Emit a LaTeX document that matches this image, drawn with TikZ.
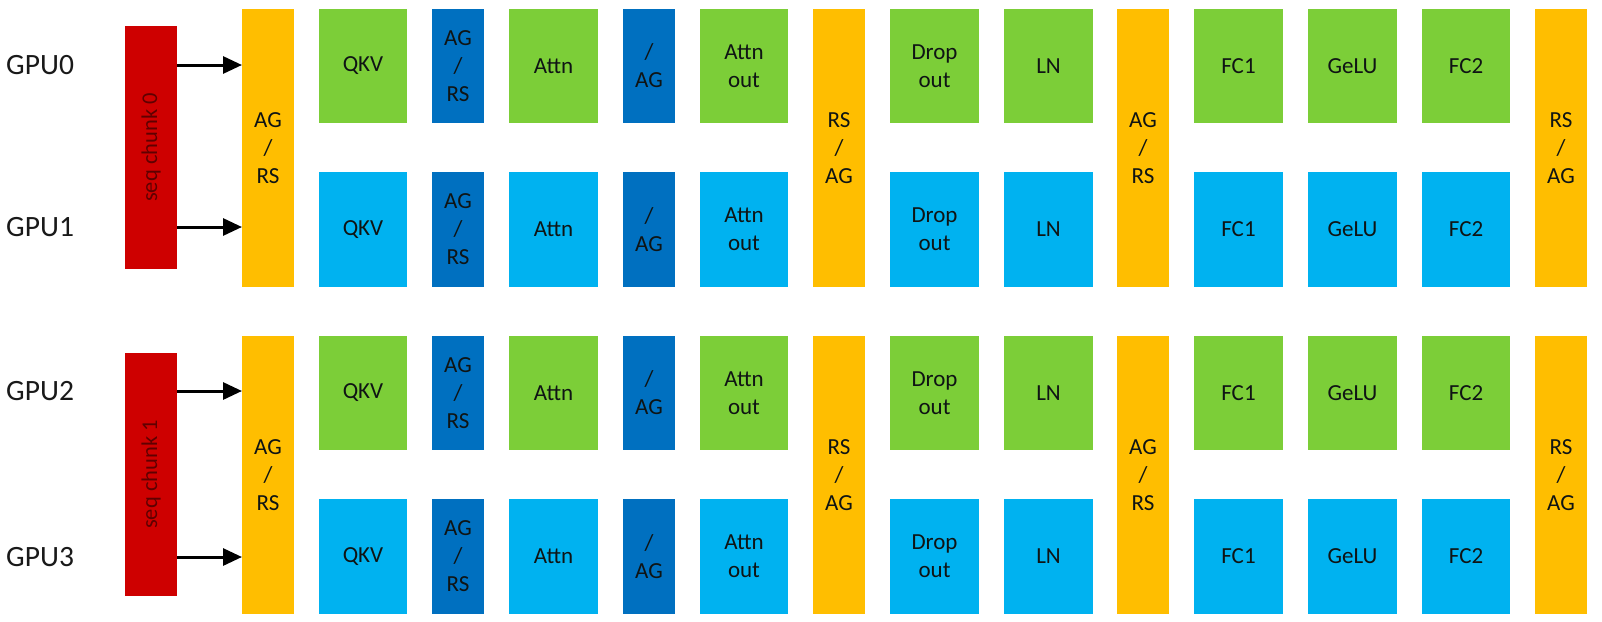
\documentclass[tikz,border=0pt]{standalone}
\usepackage{fontspec}
\setmainfont{Carlito}
\usetikzlibrary{arrows.meta}
\definecolor{cgreen}{RGB}{124,206,56}
\definecolor{cblue}{RGB}{0,178,240}
\definecolor{cdblue}{RGB}{0,112,192}
\definecolor{cyellow}{RGB}{255,190,0}
\definecolor{cred}{RGB}{206,0,0}
\definecolor{cdred}{RGB}{95,0,0}
\definecolor{ctext}{RGB}{15,20,20}
\begin{document}
\begin{tikzpicture}[x=1pt,y=-1pt,
  blk/.style={draw=none, inner sep=0pt, outer sep=0pt, align=center, text=ctext,
    font=\fontsize{23}{28}\selectfont},
  redbox/.style={draw=none, inner sep=0pt, outer sep=0pt, fill=cred},
  seqtxt/.style={rotate=90, text=cdred, inner sep=0pt, font=\fontsize{22.5}{26}\selectfont},
  gpu/.style={anchor=west, inner sep=0pt, text=black!90, font=\fontsize{29.5}{32}\selectfont},
  arr/.style={line width=3pt, -{Triangle[length=19pt,width=17pt]}}]
\useasboundingbox (0,0) rectangle (1602,621);
\fill[white] (0,0) rectangle (1602,621);

\foreach \g/\dy in {0/0,1/327} {
  % yellow communication columns
  \foreach \c/\xa/\xb/\t in {ya/242/294/{AG\\/\\RS}, yb/813/865/{RS\\/\\AG}, yc/1117/1169/{AG\\/\\RS}, yd/1535/1587/{RS\\/\\AG}}
    \node[blk, fill=cyellow, minimum width={(\xb-\xa)*1pt}, minimum height=278pt]
      (\c\g) at ({(\xa+\xb)/2},{148+\dy}) {\t};
  % red sequence chunk
  \node[redbox, minimum width=52pt, minimum height=243pt,
        label={[seqtxt]center:seq chunk \g}] (seq\g) at (151,{147.5+\dy}) {};
  % rows
  \foreach \r/\ya/\yb/\col in {a/9/123/cgreen, b/172/287/cblue} {
    \foreach \c/\xa/\xb/\t in {qkv/319/407/QKV, attn/509/598/Attn, ao/700/788/{Attn\\out}, do/890/979/{Drop\\out}, ln/1004/1093/LN, fca/1194/1283/FC1, gelu/1308/1397/GeLU, fcb/1422/1510/FC2}
      \node[blk, fill=\col, minimum width={(\xb-\xa)*1pt}, minimum height={(\yb-\ya)*1pt}]
        (\c\r\g) at ({(\xa+\xb)/2},{(\ya+\yb)/2+\dy}) {\t};
    \foreach \c/\xa/\xb/\t in {agrs/432/484/{AG\\/\\RS}, ag/623/675/{/\\AG}}
      \node[blk, fill=cdblue, minimum width={(\xb-\xa)*1pt}, minimum height={(\yb-\ya)*1pt}]
        (\c\r\g) at ({(\xa+\xb)/2},{(\ya+\yb)/2+\dy}) {\t};
  }
}

\node[gpu] (gpu0) at (6,65) {GPU0};
\node[gpu] (gpu1) at (6,227) {GPU1};
\node[gpu] (gpu2) at (6,391) {GPU2};
\node[gpu] (gpu3) at (6,557) {GPU3};

\draw[arr] (gpu0 -| seq0.east) -- (gpu0 -| ya0.west);
\draw[arr] (gpu1 -| seq0.east) -- (gpu1 -| ya0.west);
\draw[arr] (gpu2 -| seq1.east) -- (gpu2 -| ya1.west);
\draw[arr] (gpu3 -| seq1.east) -- (gpu3 -| ya1.west);
\end{tikzpicture}
\end{document}
